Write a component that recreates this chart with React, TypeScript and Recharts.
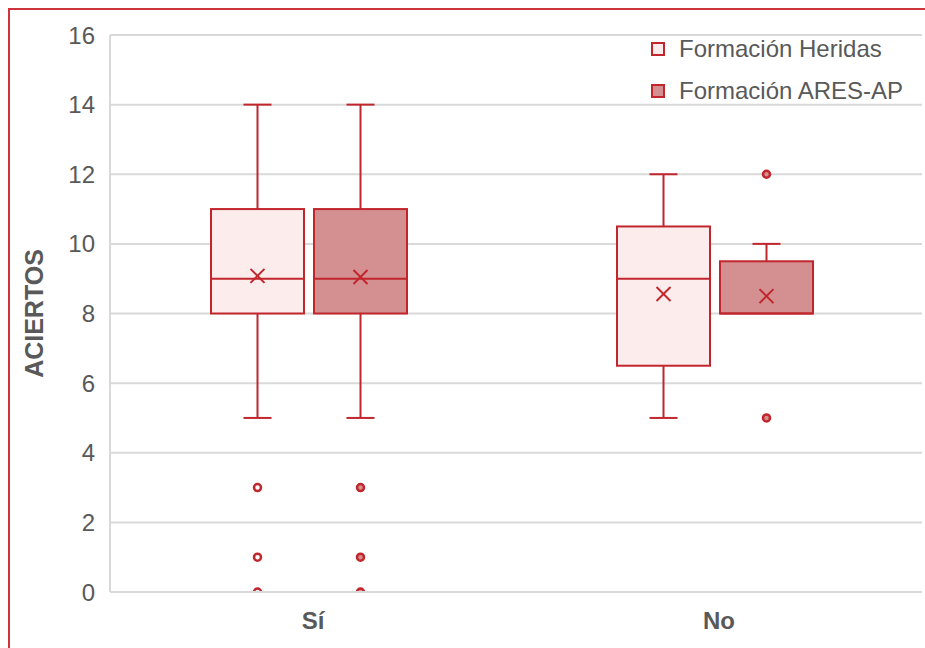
import { ComposedChart, Bar, XAxis, YAxis, CartesianGrid } from 'recharts'

const categories = ['Sí', 'No']
const yTicks = [0, 2, 4, 6, 8, 10, 12, 14, 16]

// Formación Heridas
const heridasMin = [5, 5]
const heridasQ1 = [8, 6.5]
const heridasMedian = [9, 9]
const heridasQ3 = [11, 10.5]
const heridasMax = [14, 12]
const heridasMean = [9.08, 8.56]
const heridasOutliers = [[3, 1, 0], []]

// Formación ARES-AP
const aresMin = [5, 8]
const aresQ1 = [8, 8]
const aresMedian = [9, 8]
const aresQ3 = [11, 9.5]
const aresMax = [14, 10]
const aresMean = [9.05, 8.5]
const aresOutliers = [[3, 1, 0], [12, 5]]

const STROKE = '#c1262c'
const LIGHT = '#fdecec'
const DARK = '#d48f90'
const TEXT = '#595959'
const GRID = '#d9d9d9'
const FONT = '"Liberation Sans", Arial, sans-serif'

interface Stats {
  min: number
  q1: number
  median: number
  q3: number
  max: number
  mean: number
  outliers: number[]
}

const data = categories.map((cat, i) => ({
  cat,
  // bars run from 0 to the top of the chart so the shape can map values to pixels
  hTop: 16,
  aTop: 16,
  h: {
    min: heridasMin[i], q1: heridasQ1[i], median: heridasMedian[i], q3: heridasQ3[i],
    max: heridasMax[i], mean: heridasMean[i], outliers: heridasOutliers[i],
  } as Stats,
  a: {
    min: aresMin[i], q1: aresQ1[i], median: aresMedian[i], q3: aresQ3[i],
    max: aresMax[i], mean: aresMean[i], outliers: aresOutliers[i],
  } as Stats,
}))

function makeBox(key: 'h' | 'a', fill: string, dotFill: string) {
  return function BoxShape(props: any) {
    const { y, width, height, payload, index } = props
    const x = props.x - 4
    const s: Stats = payload[key]
    const top = 16
    const py = (v: number) => y + height * (1 - v / top)
    const cx = x + width / 2
    const cap = 14
    const m = 7
    const clipId = `clip-${key}-${index}`
    return (
      <g>
        <defs>
          <clipPath id={clipId}>
            <rect x={x - 20} y={py(top)} width={width + 40} height={py(0) - py(top) + 1} />
          </clipPath>
        </defs>
        <line x1={cx} x2={cx} y1={py(s.max)} y2={py(s.q3)} stroke={STROKE} strokeWidth={2} />
        <line x1={cx - cap} x2={cx + cap} y1={py(s.max)} y2={py(s.max)} stroke={STROKE} strokeWidth={2} />
        {s.min < s.q1 && (
          <>
            <line x1={cx} x2={cx} y1={py(s.q1)} y2={py(s.min)} stroke={STROKE} strokeWidth={2} />
            <line x1={cx - cap} x2={cx + cap} y1={py(s.min)} y2={py(s.min)} stroke={STROKE} strokeWidth={2} />
          </>
        )}
        <rect
          x={x}
          y={py(s.q3)}
          width={width}
          height={py(s.q1) - py(s.q3)}
          fill={fill}
          stroke={STROKE}
          strokeWidth={2}
        />
        <line x1={x} x2={x + width} y1={py(s.median)} y2={py(s.median)} stroke={STROKE} strokeWidth={2} />
        <line x1={cx - m} x2={cx + m} y1={py(s.mean) - m} y2={py(s.mean) + m} stroke={STROKE} strokeWidth={2} />
        <line x1={cx - m} x2={cx + m} y1={py(s.mean) + m} y2={py(s.mean) - m} stroke={STROKE} strokeWidth={2} />
        <g clipPath={`url(#${clipId})`}>
          {s.outliers.map((v, j) => (
            <circle key={j} cx={cx} cy={py(v)} r={3.5} fill={dotFill} stroke={STROKE} strokeWidth={2.5} />
          ))}
        </g>
      </g>
    )
  }
}

function ChartLegend() {
  const items = [
    { label: 'Formación Heridas', fill: LIGHT },
    { label: 'Formación ARES-AP', fill: DARK },
  ]
  return (
    <div style={{ position: 'absolute', left: 641, top: 18, fontFamily: FONT }}>
      {items.map((it) => (
        <div key={it.label} style={{ display: 'flex', alignItems: 'center', height: 42 }}>
          <span
            style={{
              display: 'inline-block', width: 14, height: 14, boxSizing: 'border-box',
              border: `2px solid ${STROKE}`, background: it.fill, marginRight: 14,
            }}
          />
          <span style={{ fontSize: 24, color: TEXT, whiteSpace: 'nowrap' }}>{it.label}</span>
        </div>
      ))}
    </div>
  )
}

export default function App() {
  return (
    <>
      <style>{'body{margin:8px 0 0 8px;overflow:hidden}'}</style>
      <div
        style={{
          width: 917, height: 640, boxSizing: 'border-box',
          borderTop: '2px solid #d0343b', borderLeft: '2px solid #d0343b',
          background: '#fff', position: 'relative',
        }}
      >
        <ComposedChart
          width={915}
          height={638}
          data={data}
          margin={{ top: 25, right: 3, bottom: 14, left: 40 }}
          barGap={10}
          barSize={93}
        >
          <CartesianGrid horizontal vertical={false} stroke={GRID} strokeWidth={2} />
          <XAxis
            dataKey="cat"
            axisLine={{ stroke: GRID, strokeWidth: 2 }}
            tickLine={false}
            height={42}
            tickMargin={14}
            tick={{ fill: TEXT, fontSize: 24, fontWeight: 700, fontFamily: FONT }}
          />
          <YAxis
            domain={[0, 16]}
            ticks={yTicks}
            width={60}
            axisLine={{ stroke: GRID, strokeWidth: 2 }}
            tickLine={false}
            tickMargin={9}
            tick={{ fill: TEXT, fontSize: 24, fontFamily: FONT }}
            label={{
              value: 'ACIERTOS', angle: -90, position: 'insideLeft', offset: -16,
              style: { fill: TEXT, fontSize: 25, fontWeight: 700, fontFamily: FONT, textAnchor: 'middle' },
            }}
          />
          <Bar dataKey="hTop" name="Formación Heridas" shape={makeBox('h', LIGHT, '#fff')} isAnimationActive={false} />
          <Bar dataKey="aTop" name="Formación ARES-AP" shape={makeBox('a', DARK, DARK)} isAnimationActive={false} />
        </ComposedChart>
        <ChartLegend />
      </div>
    </>
  )
}
